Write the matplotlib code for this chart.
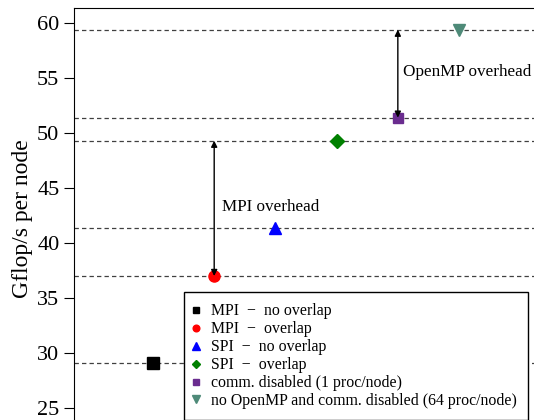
import matplotlib
matplotlib.use('Agg')
import matplotlib.pyplot as plt

plt.rcParams['font.family'] = ['Liberation Serif', 'DejaVu Serif']

# Data
labels = ['MPI  \u2212  no overlap', 'MPI  \u2212  overlap', 'SPI  \u2212  no overlap',
          'SPI  \u2212  overlap', 'comm. disabled (1 proc/node)',
          'no OpenMP and comm. disabled (64 proc/node)']
gflops = [29.06, 37.0, 41.37, 49.3, 51.39, 59.39]
xpos = [1, 2, 3, 4, 5, 6]
markers = ['s', 'o', '^', 'D', 's', 'v']
colors = ['black', 'red', 'blue', 'green', '#6A2C8F', '#4E8A78']
msizes = [8, 8, 8.5, 7.5, 6.5, 8.5]

fig = plt.figure(figsize=(5.34, 4.2), dpi=100)
ax = fig.add_axes([0.1386, -0.024, 0.893, 1.005])

for y in gflops:
    ax.axhline(y, color='0.25', lw=0.9, ls=(0, (3.5, 2.5)), zorder=1)

for x, y, m, c, s, l in zip(xpos, gflops, markers, colors, msizes, labels):
    ax.plot(x, y, ls='none', marker=m, color=c, ms=s, label=l, zorder=3)

# overhead arrows
ax.annotate('', xy=(2, gflops[3]), xytext=(2, gflops[1]),
            arrowprops=dict(arrowstyle='<|-|>', color='black', lw=1,
                            mutation_scale=9, shrinkA=0, shrinkB=0))
ax.text(2.13, 43.3, 'MPI overhead', fontsize=12.3, va='center')
ax.annotate('', xy=(5, gflops[5]), xytext=(5, gflops[4]),
            arrowprops=dict(arrowstyle='<|-|>', color='black', lw=1,
                            mutation_scale=9, shrinkA=0, shrinkB=0))
ax.text(5.08, 55.5, 'OpenMP overhead', fontsize=12.3, va='center')

ax.set_xlim(-0.29, 7.5)
ax.set_ylim(23.0, 61.36)
ax.set_xticks([])
ax.set_yticks([25, 30, 35, 40, 45, 50, 55, 60])
ax.tick_params(axis='y', labelsize=16, length=7, direction='out')
ax.set_ylabel('Gflop/s per node', fontsize=17, labelpad=3)

leg = ax.legend(loc='upper left', bbox_to_anchor=(0.2306, 0.327), borderaxespad=0,
                fontsize=11.4, markerscale=0.6, fancybox=False, edgecolor='black',
                handlelength=0.1, handletextpad=0.9, labelspacing=0.12,
                borderpad=0.72, framealpha=1)
leg.get_frame().set_linewidth(1)

fig.savefig('out.png', dpi=100)
